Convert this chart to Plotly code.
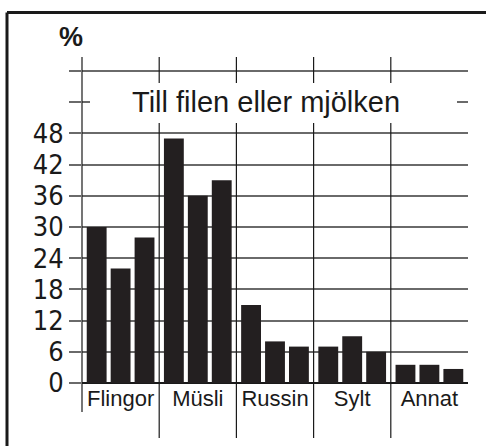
import plotly.graph_objects as go

categories = ["Flingor", "Müsli", "Russin", "Sylt", "Annat"]
series_names = ["Serie 1", "Serie 2", "Serie 3"]
series_1 = [30, 47, 15, 7, 3.5]
series_2 = [22, 36, 8, 9, 3.5]
series_3 = [28, 39, 7, 6, 2.7]
y_tickvals = [0, 6, 12, 18, 24, 30, 36, 42, 48, 54, 60]
y_ticktext = ["0", "6", "12", "18", "24", "30", "36", "42", "48", "", ""]
title_text = "Till filen eller mjölken"
unit_text = "%"

W, H = 486, 446
L, R, T, B = 82, 18, 57, 63
PW, PH = W - L - R, H - T - B


def px(x):
    return (x - L) / PW


def py(y):
    return (H - B - y) / PH


BAR = "#231f20"
GRID = "#6a6a6a"
INK = "#1a1a1a"

fig = go.Figure()
for name, vals in zip(series_names, [series_1, series_2, series_3]):
    fig.add_trace(go.Bar(x=categories, y=vals, name=name, marker_color=BAR,
                         marker_line_width=0, showlegend=False))

shapes = []
# category separators
for i in range(len(categories) - 1):
    shapes.append(dict(type="line", xref="x", yref="paper", x0=i + 0.5, x1=i + 0.5,
                       y0=py(438), y1=1, line=dict(color=INK, width=1.2), layer="above"))
# left axis line
shapes.append(dict(type="line", xref="paper", yref="paper", x0=0, x1=0,
                   y0=py(412), y1=1, line=dict(color=INK, width=1.2), layer="above"))
# white band behind title
shapes.append(dict(type="rect", xref="paper", yref="paper", x0=px(90), x1=px(457),
                   y0=py(123), y1=py(83), fillcolor="white", line=dict(width=0), layer="above"))
# outer frame (top and left)
shapes.append(dict(type="line", xref="paper", yref="paper", x0=px(7), x1=px(490),
                   y0=py(12.5), y1=py(12.5), line=dict(color=INK, width=3), layer="above"))
shapes.append(dict(type="line", xref="paper", yref="paper", x0=px(7), x1=px(7),
                   y0=py(12.5), y1=py(450), line=dict(color=INK, width=3), layer="above"))

annotations = [
    dict(text=title_text, xref="paper", yref="paper", x=px(266), y=py(102),
         showarrow=False, font=dict(family="Liberation Sans, Arial, sans-serif", size=29, color=INK),
         xanchor="center", yanchor="middle"),
    dict(text="<b>%s</b>" % unit_text, xref="paper", yref="paper", x=px(71), y=py(37),
         showarrow=False, font=dict(family="Liberation Sans, Arial, sans-serif", size=27, color=INK),
         xanchor="center", yanchor="middle"),
]

fig.update_layout(
    width=W, height=H,
    margin=dict(l=L, r=R, t=T, b=B, pad=0),
    paper_bgcolor="white", plot_bgcolor="white",
    barmode="group", bargap=0.07, bargroupgap=0.17,
    shapes=shapes, annotations=annotations,
    font=dict(family="Liberation Sans, Arial, sans-serif", color=INK),
)
fig.update_xaxes(range=[-0.5, 4.5], showgrid=False, zeroline=False, showline=False,
                 ticks="", tickfont=dict(size=22, family="Liberation Sans, Arial, sans-serif", color=INK))
fig.update_yaxes(range=[0, PH / 5.2], tickmode="array", tickvals=y_tickvals, ticktext=y_ticktext,
                 showgrid=True, gridcolor=GRID, gridwidth=1.5,
                 zeroline=True, zerolinecolor=INK, zerolinewidth=2,
                 showline=False, ticks="outside", ticklen=12, tickcolor=GRID, tickwidth=1.5,
                 tickfont=dict(size=27, family="Liberation Sans Narrow, DejaVu Sans Condensed, sans-serif", color=INK))

fig.write_html("out.html", config={"displayModeBar": False},
               post_script="document.body.style.margin='0';")
